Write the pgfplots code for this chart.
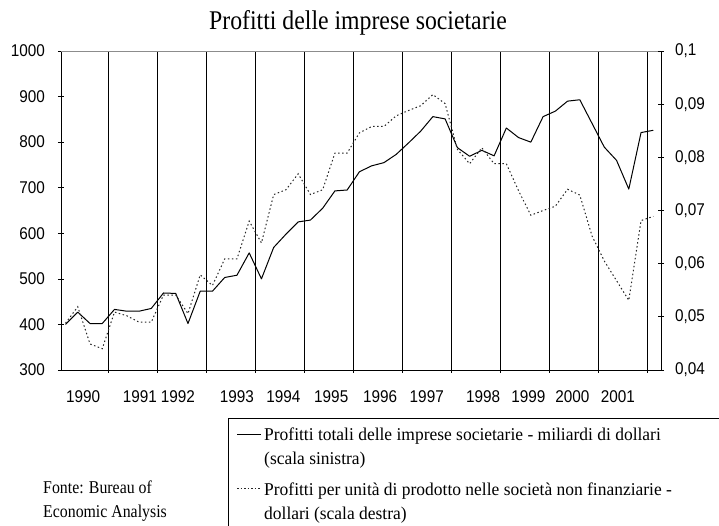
\documentclass[border=0pt]{standalone}
\usepackage{fontspec}
\setmainfont{Liberation Serif}[FakeStretch=0.88]
\newfontfamily\tnrw{Liberation Serif}[FakeStretch=0.97]
\newfontfamily\arn{Liberation Sans}[FakeStretch=0.9]
\usepackage{pgfplots}
\pgfplotsset{compat=1.18}
\usepackage{pgfplotstable}
\pgfplotstableread{
i tot
0 400
1 427
2 402
3 402
4 433
5 429
6 429
7 435
8 469
9 468
10 402
11 473
12 473
13 503
14 508
15 557
16 500
17 569
18 598
19 625
20 629
21 655
22 693
23 695
24 735
25 748
26 755
27 773
28 798
29 824
30 856
31 851
32 788
33 769
34 782
35 770
36 831
37 810
38 800
39 856
40 868
41 890
42 893
43 841
44 789
45 760
46 697
47 821
48 826
}\tottable
\pgfplotstableread{
i unit
0 0.0488
1 0.0519
2 0.0449
3 0.0440
4 0.0509
5 0.0502
6 0.0490
7 0.0490
8 0.0541
9 0.0541
10 0.0506
11 0.0579
12 0.0559
13 0.0609
14 0.0609
15 0.0680
16 0.0639
17 0.0730
18 0.0739
19 0.0769
20 0.0730
21 0.0739
22 0.0808
23 0.0808
24 0.0846
25 0.0858
26 0.0858
27 0.0878
28 0.0888
29 0.0897
30 0.0918
31 0.0901
32 0.0815
33 0.0788
34 0.0818
35 0.0788
36 0.0788
37 0.0737
38 0.0691
39 0.0700
40 0.0708
41 0.0740
42 0.0729
43 0.0652
44 0.0605
45 0.0568
46 0.0531
47 0.0681
48 0.0689
}\unittable
\begin{document}
\begin{tikzpicture}
\path[use as bounding box] (0,0) rectangle (719bp,526bp);
\begin{axis}[
  at={(61bp,156bp)}, anchor=south west,
  scale only axis, width=600bp, height=319bp,
  xmin=-0.37, xmax=48.63, ymin=300, ymax=1000,
  axis x line*=bottom, axis y line*=left,
  axis line style={black, line width=0.7bp},
  tick align=center, major tick length=6bp,
  every tick/.style={black, line width=0.7bp},
  ytick={300,400,500,600,700,800,900,1000},
  xtick={3.5,7.5,11.5,15.5,19.5,23.5,27.5,31.5,35.5,39.5,43.5,47.5},
  xticklabels={},
  xmajorgrids,
  major grid style={black, line width=0.7bp},
  extra x ticks={1.43,6.08,9.18,14.0,17.8,21.7,25.7,29.5,34.1,37.8,41.4,45.1},
  extra x tick labels={1990,1991,1992,1993,1994,1995,1996,1997,1998,1999,2000,2001},
  extra x tick style={major tick length=0pt, grid=none},
  /pgf/number format/assume math mode=true,
  /pgf/number format/1000 sep={},
  tick label style={font=\arn\fontsize{17bp}{17bp}\selectfont},
  yticklabel style={anchor=east, inner sep=0pt, xshift=-13bp},
  xticklabel style={anchor=base, inner sep=0pt, yshift=-33bp},
  clip=false,
]
\draw[black!45, line width=0.7bp] (rel axis cs:0,1) -- (rel axis cs:1,1);
\addplot[black, line width=1bp, line join=round] table[x=i, y=tot] {\tottable};
\end{axis}
\begin{axis}[
  at={(61bp,156bp)}, anchor=south west,
  scale only axis, width=600bp, height=319bp,
  xmin=-0.37, xmax=48.63, ymin=0.04, ymax=0.1,
  axis x line=none, axis y line*=right,
  axis line style={black, line width=0.7bp},
  tick align=center, major tick length=6bp,
  every tick/.style={black, line width=0.7bp},
  ytick={0.04,0.05,0.06,0.07,0.08,0.09,0.1},
  /pgf/number format/assume math mode=true,
  /pgf/number format/.cd, use comma, fixed, precision=2, 1000 sep={},
  /pgfplots/.cd,
  tick label style={font=\arn\fontsize{17bp}{17bp}\selectfont},
  yticklabel style={anchor=west, inner sep=0pt, xshift=11bp},
  clip=false,
]
\addplot[black!85, line width=1bp, dash pattern=on 1.5bp off 2.5bp] table[x=i, y=unit] {\unittable};
\end{axis}
% title
\node[anchor=base, inner sep=0pt, font=\fontsize{27bp}{27bp}\selectfont] at (358bp,496bp) {Profitti delle imprese societarie};
% source
\node[anchor=base west, inner sep=0pt, font=\fontsize{18bp}{18bp}\selectfont] at (43bp,33bp) {Fonte: Bureau of};
\node[anchor=base west, inner sep=0pt, font=\fontsize{18bp}{18bp}\selectfont] at (43bp,9bp) {Economic Analysis};
% legend box
\draw[black, line width=0.7bp] (228bp,0bp) -- (228bp,108bp) -- (719bp,108bp);
\draw[black, line width=1bp] (237bp,91bp) -- (261bp,91bp);
\draw[black!85, line width=1bp, dash pattern=on 1.5bp off 2bp] (237bp,37bp) -- (261bp,37bp);
\node[anchor=base west, inner sep=0pt, font=\tnrw\fontsize{18bp}{18bp}\selectfont] at (264bp,85bp) {Profitti totali delle imprese societarie - miliardi di dollari};
\node[anchor=base west, inner sep=0pt, font=\tnrw\fontsize{18bp}{18bp}\selectfont] at (264bp,61bp) {(scala sinistra)};
\node[anchor=base west, inner sep=0pt, font=\tnrw\fontsize{18bp}{18bp}\selectfont] at (264bp,31bp) {Profitti per unità di prodotto nelle società non finanziarie -};
\node[anchor=base west, inner sep=0pt, font=\tnrw\fontsize{18bp}{18bp}\selectfont] at (264bp,7bp) {dollari (scala destra)};
\end{tikzpicture}
\end{document}
